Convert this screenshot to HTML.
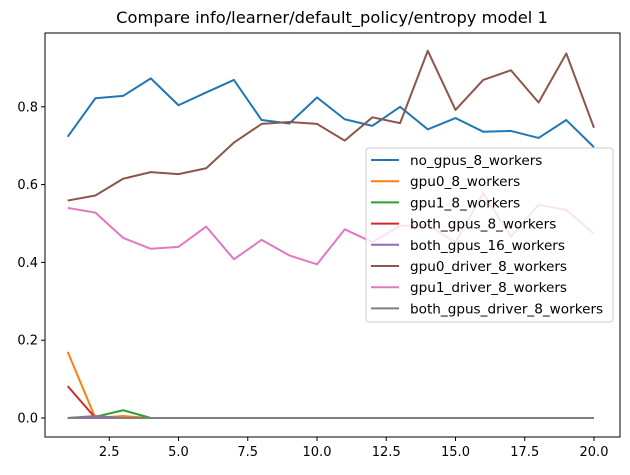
<!DOCTYPE html>
<html><head><meta charset="utf-8"><style>
body{margin:0;background:#fff;font-family:"Liberation Sans","DejaVu Sans",sans-serif}
svg text{font-family:"DejaVu Sans","Liberation Sans",sans-serif}
</style></head><body>
<svg id="chart" width="630" height="470" xmlns="http://www.w3.org/2000/svg">
<text x="332" y="23" font-size="16.3" text-anchor="middle">Compare info/learner/default_policy/entropy model 1</text>
<g id="grid"></g><g id="lines"></g>
<rect x="45" y="33" width="575" height="404" fill="none" stroke="#000" stroke-width="1"/>
<g id="ticks"></g><g id="legend"></g>
</svg>
<script>
const xs=[1,2,3,4,5,6,7,8,9,10,11,12,13,14,15,16,17,18,19,20];
const noGpus8=[0.723,0.822,0.828,0.873,0.804,0.837,0.869,0.766,0.757,0.824,0.768,0.751,0.800,0.742,0.771,0.736,0.738,0.720,0.766,0.696];
const gpu0_8=[0.17,0,0.005,0,0,0,0,0,0,0,0,0,0,0,0,0,0,0,0,0];
const gpu1_8=[0,0.003,0.02,0,0,0,0,0,0,0,0,0,0,0,0,0,0,0,0,0];
const both8=[0.082,0,0,0,0,0,0,0,0,0,0,0,0,0,0,0,0,0,0,0];
const both16=[0,0,0,0,0,0,0,0,0,0,0,0,0,0,0,0,0,0,0,0];
const gpu0Driver8=[0.559,0.572,0.615,0.632,0.627,0.642,0.708,0.756,0.761,0.756,0.713,0.773,0.758,0.944,0.792,0.869,0.894,0.811,0.937,0.746];
const gpu1Driver8=[0.540,0.528,0.463,0.435,0.440,0.492,0.408,0.458,0.418,0.395,0.485,0.452,0.494,0.496,0.452,0.578,0.466,0.548,0.535,0.473];
const bothDriver8=[0,0.005,0,0,0,0,0,0,0,0,0,0,0,0,0,0,0,0,0,0];
const seriesNames=["no_gpus_8_workers","gpu0_8_workers","gpu1_8_workers","both_gpus_8_workers","both_gpus_16_workers","gpu0_driver_8_workers","gpu1_driver_8_workers","both_gpus_driver_8_workers"];
const seriesData=[noGpus8,gpu0_8,gpu1_8,both8,both16,gpu0Driver8,gpu1Driver8,bothDriver8];
const colors=["#1f77b4","#ff7f0e","#2ca02c","#d62728","#9467bd","#8c564b","#e377c2","#7f7f7f"];
const xTicks=[2.5,5.0,7.5,10.0,12.5,15.0,17.5,20.0];
const yTicks=[0.0,0.2,0.4,0.6,0.8];
const NS="http://www.w3.org/2000/svg";
function X(v){return 67.7+(v-1)*27.7;}
function Y(v){return 418-v*389;}
function mk(t,a,p){const e=document.createElementNS(NS,t);for(const k in a)e.setAttribute(k,a[k]);p.appendChild(e);return e;}
const lines=document.getElementById('lines'),ticks=document.getElementById('ticks'),leg=document.getElementById('legend');
seriesData.forEach((d,i)=>{
 const pl=mk('polyline',{points:d.map((v,j)=>X(xs[j])+','+Y(v)).join(' '),fill:'none',stroke:colors[i],'stroke-width':2,'stroke-linejoin':'round'},lines);
 
 
});
xTicks.forEach(v=>{
 const x=X(v);
 const l=mk('line',{x1:x,x2:x,y1:437,y2:441,stroke:'#000'},ticks);
 
 
 const t=mk('text',{x:x,y:456,'font-size':13,'text-anchor':'middle'},ticks);t.textContent=v.toFixed(1);
 
 
});
yTicks.forEach(v=>{
 const y=Y(v);
 const l=mk('line',{x1:41,x2:45,y1:y,y2:y,stroke:'#000'},ticks);
 
 
 const t=mk('text',{x:38,y:y+4.5,'font-size':13,'text-anchor':'end'},ticks);t.textContent=v.toFixed(1);
 
 
});
const box=mk('rect',{x:366,y:148,width:247,height:174,rx:3,fill:'#fff','fill-opacity':0.8,stroke:'#ccc'},leg);


seriesNames.forEach((n,i)=>{
 const y=160+i*21.2;
 const g=mk('g',{},leg);
 
 
 mk('line',{x1:371,x2:399,y1:y,y2:y,stroke:colors[i],'stroke-width':2},g);
 const t=mk('text',{x:410,y:y+5,'font-size':13.6},g);t.textContent=n;
});
</script>
</body></html>
